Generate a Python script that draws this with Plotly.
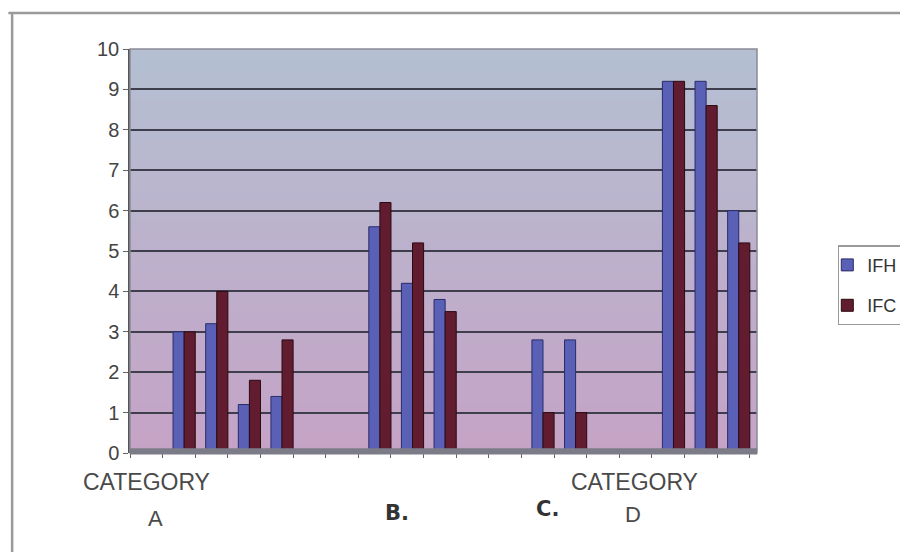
import plotly.graph_objects as go

# ---- data ----
slots = list(range(1, 20))  # 19 category slots along the x axis
ifh = [None, 3.0, 3.2, 1.2, 1.4, None, None, 5.6, 4.2, 3.8, None, None, 2.8, 2.8, None, None, 9.2, 9.2, 6.0]
ifc = [None, 3.0, 4.0, 1.8, 2.8, None, None, 6.2, 5.2, 3.5, None, None, 1.0, 1.0, None, None, 9.2, 8.6, 5.2]
series_names = ["IFH", "IFC"]
y_ticks = list(range(0, 11))
cat_word = "CATEGORY"
cat_labels = ["A", "D"]
cat_word_pos = [1.0, 15.95]
cat_letter_pos = [1.27, 15.92]
hand_labels = ["B.", "C."]
hand_pos = [8.68, 13.31]

BLUE = "#5a60b6"
MAROON = "#621c30"
FONT = "Liberation Sans, Arial"

fig = go.Figure()
fig.add_trace(go.Bar(x=slots, y=ifh, name=series_names[0],
                     marker=dict(color=BLUE, line=dict(color="#2a2c6a", width=1)),
                     width=0.34, offset=-0.18, legendgroup="a"))
fig.add_trace(go.Bar(x=slots, y=ifc, name=series_names[1],
                     marker=dict(color=MAROON, line=dict(color="#2a0a12", width=1)),
                     width=0.34, offset=0.16, legendgroup="b"))

# gradient background bands
shapes = []
n = 40
top = (180, 191, 210)
bot = (197, 163, 198)
for i in range(n):
    t = i / (n - 1)
    c = tuple(int(round(top[k] + (bot[k] - top[k]) * t)) for k in range(3))
    shapes.append(dict(type="rect", xref="x domain", yref="y domain", x0=0, x1=1,
                       y0=max(0, 1 - (i + 1) / n - 0.01), y1=1 - i / n,
                       fillcolor="rgb(%d,%d,%d)" % c, line=dict(width=0), layer="below"))
# plot area frame
shapes.append(dict(type="rect", xref="x domain", yref="y domain", x0=0, x1=1, y0=0, y1=1,
                   line=dict(color="#8a8a96", width=1.5), fillcolor="rgba(0,0,0,0)", layer="above"))
# floor band
shapes.append(dict(type="rect", xref="x domain", yref="y domain", x0=0, x1=1, y0=-0.004, y1=0.012,
                   fillcolor="#7c7c88", line=dict(width=0), layer="above"))
# outer chart frame (left & top)
shapes.append(dict(type="line", xref="paper", yref="paper", x0=-0.188, x1=-0.188, y0=-0.3, y1=1.089,
                   line=dict(color="#9a9a9a", width=2.5)))
shapes.append(dict(type="line", xref="paper", yref="paper", x0=-0.194, x1=1.3, y0=1.089, y1=1.089,
                   line=dict(color="#9a9a9a", width=2.5)))

annotations = []
for p in cat_word_pos:
    annotations.append(dict(x=p, y=-0.0718, xref="x", yref="paper", text=cat_word,
                            showarrow=False, yanchor="middle", xanchor="center",
                            font=dict(family=FONT, size=23, color="#4a4a4a")))
for lab, p, yy in zip(cat_labels, cat_letter_pos, [-0.161, -0.151]):
    annotations.append(dict(x=p, y=yy, xref="x", yref="paper", text=lab,
                            showarrow=False, yanchor="middle", xanchor="center",
                            font=dict(family=FONT, size=22, color="#4a4a4a")))
for lab, p, yy in zip(hand_labels, hand_pos, [-0.1485, -0.1386]):
    annotations.append(dict(x=p, y=yy, xref="x", yref="paper", text="<b>" + lab + "</b>",
                            showarrow=False, yanchor="middle", xanchor="center",
                            font=dict(family="DejaVu Sans", size=21, color="#333333")))

fig.update_layout(
    width=900, height=544,
    margin=dict(l=122, r=151, t=41, b=99),
    paper_bgcolor="white", plot_bgcolor="rgba(0,0,0,0)",
    barmode="overlay",
    showlegend=True,
    legend=dict(xref="container", yref="container", x=0.922, y=0.564, xanchor="left", yanchor="top",
                bordercolor="#9a9a9a", borderwidth=1.5, bgcolor="white",
                font=dict(family=FONT, size=18, color="#333333"),
                tracegroupgap=14, traceorder="grouped", itemwidth=30, indentation=-12),
    shapes=shapes, annotations=annotations,
)
fig.update_xaxes(range=[0.5, 19.72], showgrid=False, zeroline=False, tickvals=[], showline=False,
                 minor=dict(ticks="outside", tick0=0.5, dtick=1, ticklen=4, tickcolor="#666666", showgrid=False))
fig.update_yaxes(range=[0, 10], tickvals=y_ticks, showgrid=True, gridcolor="#3e3e4c", gridwidth=1.5,
                 zeroline=False, showline=True, linecolor="#555555", linewidth=1.5,
                 ticks="outside", ticklen=5, tickcolor="#666666",
                 tickfont=dict(family=FONT, size=20, color="#444444"))

fig.write_html("out.html")
